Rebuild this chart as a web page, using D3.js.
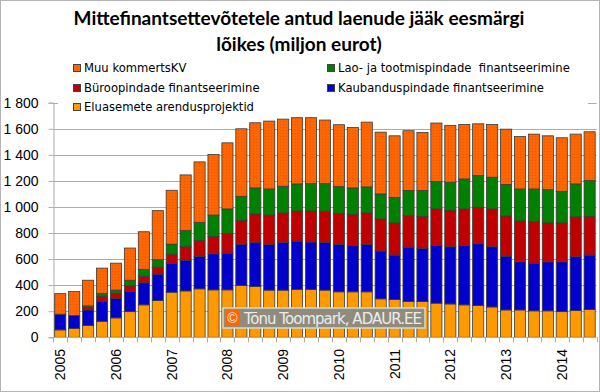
<!DOCTYPE html>
<html>
<head>
<meta charset="utf-8">
<title>laenude jääk eesmärgi lõikes</title>
<script src="https://d3js.org/d3.v7.min.js"></script>
<style>
  body { margin: 0; background: #fff; }
  svg { display: block; }
</style>
</head>
<body>
<script>
// quarters 2005 Q1 ... 2014 Q3
var years = ["2005","2006","2007","2008","2009","2010","2011","2012","2013","2014"]
var quarters = []
years.forEach(function(y){ [1,2,3,4].forEach(function(q){ quarters.push(y + "Q" + q) }) })
quarters = quarters.slice(0, 39)

var eluasemete = [57,69,90,123,149,197,249,282,346,356,372,364,364,397,390,362,362,367,367,362,349,349,349,295,290,274,274,262,256,249,244,233,210,210,203,203,197,205,213]
var kaubandus  = [120,98,120,154,148,154,169,203,223,236,248,277,282,318,336,351,364,371,364,366,364,354,364,367,341,418,408,443,439,454,474,462,413,369,366,376,382,413,418]
var buroo      = [0,0,18,38,41,44,51,53,69,103,124,133,151,182,220,225,228,231,238,239,236,241,241,246,246,241,246,280,277,282,279,290,308,313,318,298,298,305,297]
var lao        = [0,0,13,21,24,43,51,57,77,123,138,164,188,185,200,200,205,208,210,212,207,202,200,192,195,193,198,210,218,230,244,243,241,246,251,256,243,254,275]
var muu        = [158,184,197,195,207,247,290,377,413,428,464,465,507,518,500,521,515,508,506,488,475,464,497,474,474,459,446,449,436,418,397,405,425,403,421,413,411,382,374]

var yTicks = [0,200,400,600,800,1000,1200,1400,1600,1800]

var seriesKeys = ["elu","kaub","buroo","lao","muu"]
var seriesNames = {
  muu: "Muu kommertsKV",
  lao: "Lao- ja tootmispindade  finantseerimine",
  buroo: "Büroopindade finantseerimine",
  kaub: "Kaubanduspindade finantseerimine",
  elu: "Eluasemete arendusprojektid"
}
var colors = { elu: "#FF9900", kaub: "#0000CC", buroo: "#C00000", lao: "#008000", muu: "#FF6600" }

var data = quarters.map(function(q, i){
  return { q: q, elu: eluasemete[i], kaub: kaubandus[i], buroo: buroo[i], lao: lao[i], muu: muu[i] }
})

var w = 600, h = 392
var svg = d3.select("body").append("svg").attr("width", w).attr("height", h)
  .style("font-family", "'Liberation Sans', Arial, sans-serif")

var defs = svg.append("defs")
var pat = defs.append("pattern").attr("id", "dots").attr("width", 3).attr("height", 3)
  .attr("patternUnits", "userSpaceOnUse")
pat.append("rect").attr("width", 3).attr("height", 3).attr("fill", colors.muu)
pat.append("rect").attr("x", 1).attr("y", 1).attr("width", 1).attr("height", 1).attr("fill", "#EE5500")

svg.append("rect").attr("x", 0.5).attr("y", 0.5).attr("width", w - 1).attr("height", h - 1)
  .attr("fill", "#fff").attr("stroke", "#b4b4b4")

var plotL = 53.3, plotR = 596.6, plotT = 102.7, plotB = 337.3

var x = d3.scaleBand().domain(quarters).range([plotL, plotR]).paddingInner(0.2).paddingOuter(0.1)
var y = d3.scaleLinear().domain([0, 1800]).range([plotB, plotT])

// gridlines
svg.append("g").selectAll("line").data(yTicks.slice(1)).enter().append("line")
  .attr("x1", plotL).attr("x2", plotR)
  .attr("y1", function(d){ return Math.round(y(d)) + 0.5 })
  .attr("y2", function(d){ return Math.round(y(d)) + 0.5 })
  .attr("stroke", "#acacac")

// y axis
var yAxis = svg.append("g").attr("transform", "translate(" + (Math.round(plotL) + 0.5) + ",0)")
  .call(d3.axisLeft(y).tickValues(yTicks).tickSize(5).tickPadding(10)
    .tickFormat(function(d){ return d3.format(",")(d).replace(",", " ") }))
yAxis.select(".domain").attr("stroke", "#acacac")
yAxis.selectAll(".tick line").attr("stroke", "#acacac")
yAxis.selectAll("text").attr("font-size", 14).attr("fill", "#000")
  .attr("font-family", "'Liberation Sans', Arial, sans-serif")

// stacked bars
var stack = d3.stack().keys(seriesKeys)(data)
var groups = svg.append("g").selectAll("g").data(stack).enter().append("g")
  .attr("fill", function(d){ return d.key === "muu" ? "url(#dots)" : colors[d.key] })

groups.selectAll("rect").data(function(d){ return d }).enter().append("rect")
  .filter(function(d){ return d[1] - d[0] > 0 })
  .attr("x", function(d){ return x(d.data.q) })
  .attr("width", x.bandwidth())
  .attr("y", function(d){ return y(d[1]) })
  .attr("height", function(d){ return y(d[0]) - y(d[1]) })
  .attr("stroke", "#3a3a3a").attr("stroke-width", 0.8)

// x axis
var step = x.step()
var xa = svg.append("g")
xa.append("line").attr("x1", plotL).attr("x2", plotR)
  .attr("y1", Math.round(plotB) + 0.5).attr("y2", Math.round(plotB) + 0.5).attr("stroke", "#acacac")
xa.selectAll(".tk").data(d3.range(quarters.length + 1)).enter().append("line")
  .attr("x1", function(i){ return Math.round(plotL + i * step) + 0.5 })
  .attr("x2", function(i){ return Math.round(plotL + i * step) + 0.5 })
  .attr("y1", plotB).attr("y2", plotB + 5).attr("stroke", "#acacac")
xa.selectAll("text").data(years).enter().append("text")
  .attr("transform", function(d){
    return "translate(" + (x(d + "Q1") + x.bandwidth() / 2) + ",349) rotate(-90)"
  })
  .attr("text-anchor", "end").attr("dy", "0.35em")
  .attr("font-size", 14).attr("fill", "#000")
  .text(function(d){ return d })

// watermark
var wm = svg.append("g").attr("transform", "translate(223,308)")
wm.append("rect").attr("width", 202).attr("height", 20).attr("fill", "#8f8c7e")
  .attr("stroke", "#d8d8d0").attr("stroke-width", 1.5)
wm.append("rect").attr("x", 2).attr("y", 2).attr("width", 15).attr("height", 16).attr("fill", "#FF6600")
wm.append("text").attr("x", 9.5).attr("y", 15).attr("text-anchor", "middle")
  .attr("fill", "#f0f0f0").attr("font-size", 14).text("©")
wm.append("text").attr("x", 21).attr("y", 15.5).attr("fill", "#ececec")
  .attr("font-size", 15).attr("font-family", "'DejaVu Sans', Verdana, sans-serif")
  .attr("textLength", 178).text("Tõnu Toompark, ADAUR.EE")

// legend
svg.append("rect").attr("x", 58).attr("y", 57).attr("width", 530).attr("height", 59).attr("fill", "#fff")
var legendItems = [
  { key: "muu", x: 73, y: 68 }, { key: "lao", x: 327, y: 68 },
  { key: "buroo", x: 73, y: 88 }, { key: "kaub", x: 327, y: 88 },
  { key: "elu", x: 73, y: 107 }
]
var lg = svg.append("g").selectAll("g").data(legendItems).enter().append("g")
  .attr("transform", function(d){ return "translate(" + d.x + "," + d.y + ")" })
lg.append("rect").attr("x", 0.5).attr("y", -3.5).attr("width", 7).attr("height", 7)
  .attr("fill", function(d){ return colors[d.key] }).attr("stroke", "#444")
lg.append("text").attr("x", 11).attr("dy", "0.35em").attr("font-size", 11.6)
  .attr("font-family", "'DejaVu Sans', Verdana, sans-serif").attr("fill", "#000")
  .style("white-space", "pre")
  .text(function(d){ return seriesNames[d.key] })

// title
var title = svg.append("text").attr("text-anchor", "middle").attr("font-weight", "bold")
  .attr("font-family", "Lato, 'Open Sans', sans-serif").attr("font-size", 19).attr("fill", "#000")
title.append("tspan").attr("x", 299).attr("y", 25).text("Mittefinantsettevõtetele antud laenude jääk eesmärgi")
title.append("tspan").attr("x", 299).attr("y", 51).text("lõikes (miljon eurot)")
</script>
</body>
</html>
